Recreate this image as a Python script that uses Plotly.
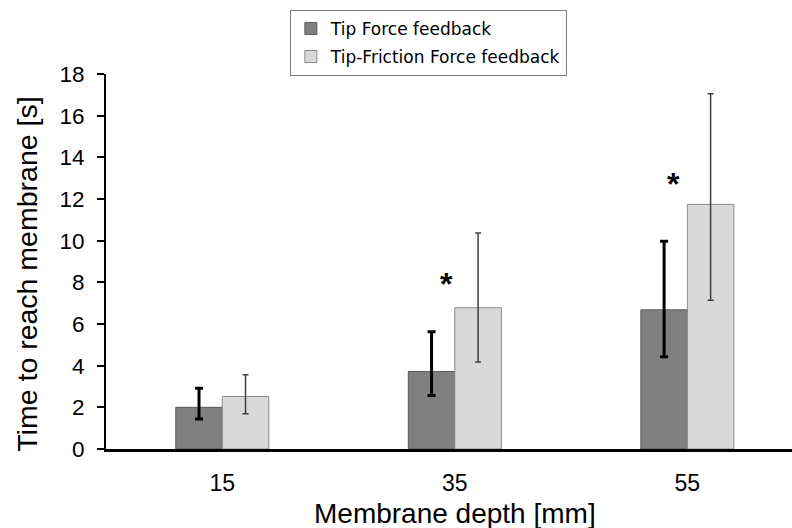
import plotly.graph_objects as go

categories = ["15", "35", "55"]
tip_force = [2.0, 3.72, 6.68]
tip_force_err_plus = [0.92, 1.91, 3.29]
tip_force_err_minus = [0.56, 1.15, 2.25]
tip_friction = [2.52, 6.78, 11.74]
tip_friction_err_plus = [1.05, 3.59, 5.31]
tip_friction_err_minus = [0.83, 2.60, 4.60]
star_heights = [7.9, 12.7]
star_groups = [1, 2]

xpos = list(range(len(categories)))

fig = go.Figure()
fig.add_trace(go.Bar(
    x=xpos, y=tip_force, name="Tip Force feedback", legendgroup="a",
    marker=dict(color="#808080", line=dict(color="#5a5a5a", width=1)),
    error_y=dict(type="data", symmetric=False, array=tip_force_err_plus,
                 arrayminus=tip_force_err_minus, color="black", thickness=3, width=4),
))
fig.add_trace(go.Bar(
    x=xpos, y=tip_friction, name="Tip-Friction Force feedback", legendgroup="b",
    marker=dict(color="#d9d9d9", line=dict(color="#8a8a8a", width=1)),
    error_y=dict(type="data", symmetric=False, array=tip_friction_err_plus,
                 arrayminus=tip_friction_err_minus, color="#404040", thickness=1.5, width=3),
))

offsets = [-0.035, -0.06]
for g, h, o in zip(star_groups, star_heights, offsets):
    fig.add_annotation(x=g + o, y=h, text="<b>*</b>", showarrow=False,
                       font=dict(size=32, color="black", family="Liberation Sans"))

# axis titles
fig.add_annotation(xref="paper", yref="paper", x=0.509, y=-0.172,
                   text="Membrane depth [mm]", showarrow=False,
                   xanchor="center", yanchor="middle",
                   font=dict(size=28, family="Liberation Sans, Arial", color="black"))
fig.add_annotation(xref="paper", yref="paper", x=-0.115, y=0.465,
                   text="Time to reach membrane [s]", showarrow=False, textangle=-90,
                   xanchor="center", yanchor="middle",
                   font=dict(size=28.5, family="Liberation Sans, Arial", color="black"))

fig.update_layout(
    width=792, height=528,
    margin=dict(l=106, r=0, t=74, b=79),
    plot_bgcolor="white", paper_bgcolor="white",
    barmode="group", bargap=0.6, bargroupgap=0,
    font=dict(family="Liberation Sans, Arial", color="black"),
    legend=dict(x=0.268, y=1.171, xanchor="left", yanchor="top",
                bgcolor="white", bordercolor="#7f7f7f", borderwidth=1,
                font=dict(family="DejaVu Sans, Verdana", size=17, color="black"),
                itemwidth=30, tracegroupgap=3, traceorder="grouped"),
    showlegend=True,
)
fig.update_xaxes(
    range=[-0.5, 2.45], tickvals=xpos, ticktext=categories,
    showline=True, linecolor="black", linewidth=3, ticks="",
    tickfont=dict(size=23), showgrid=False, zeroline=False,
    ticklabelstandoff=11,
)
fig.update_yaxes(
    range=[0, 18], dtick=2, showline=True, linecolor="black", linewidth=2,
    ticks="outside", ticklen=7, tickwidth=2, tickcolor="black",
    tickfont=dict(size=22.5), showgrid=False, zeroline=False,
    ticklabelstandoff=8,
)

fig.write_html("out.html")
